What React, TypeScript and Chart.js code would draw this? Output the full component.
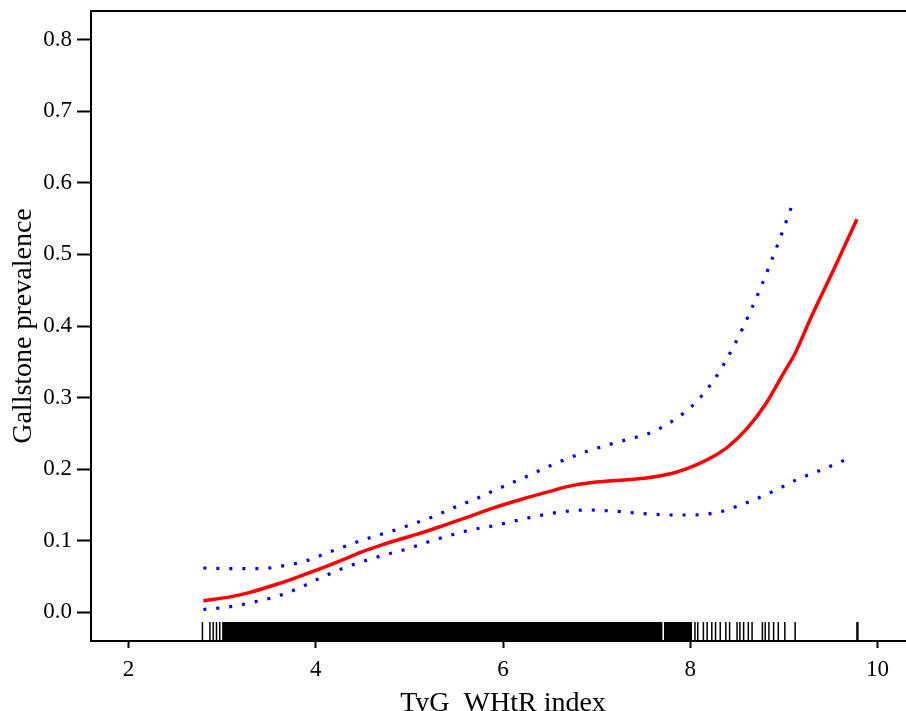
import React, { useEffect, useRef } from "react";
import { Chart, registerables } from "chart.js";

Chart.register(...registerables);

const FONT = '"Liberation Serif", "Times New Roman", Times, serif';

// Axis ticks
const xTickValues = [2, 4, 6, 8, 10];
const yTickValues = [0, 0.1, 0.2, 0.3, 0.4, 0.5, 0.6, 0.7, 0.8];

// Fitted curve (red)
const fitX = [2.8, 3.1, 3.3, 3.6, 3.8, 4.05, 4.3, 4.5, 4.7, 5.0, 5.2, 5.4, 5.6, 5.9, 6.2, 6.5, 6.7, 7.0, 7.3, 7.55, 7.8, 7.95, 8.1, 8.25, 8.4, 8.6, 8.8, 9.0, 9.12, 9.3, 9.5, 9.78];
const fitY = [0.016, 0.022, 0.028, 0.04, 0.049, 0.061, 0.074, 0.085, 0.094, 0.106, 0.114, 0.123, 0.132, 0.146, 0.158, 0.169, 0.176, 0.182, 0.185, 0.188, 0.194, 0.2, 0.208, 0.218, 0.231, 0.256, 0.29, 0.335, 0.362, 0.415, 0.47, 0.549];

// Upper confidence limit (blue dotted)
const upperX = [2.8, 3.1, 3.4, 3.65, 3.9, 4.1, 4.35, 4.57, 4.8, 5.03, 5.24, 5.47, 5.7, 5.9, 6.22, 6.56, 6.9, 7.15, 7.4, 7.54, 7.77, 8.01, 8.2, 8.36, 8.56, 8.74, 8.96, 9.11];
const upperY = [0.062, 0.061, 0.061, 0.065, 0.072, 0.082, 0.094, 0.104, 0.113, 0.123, 0.133, 0.146, 0.158, 0.17, 0.188, 0.208, 0.225, 0.235, 0.244, 0.249, 0.264, 0.287, 0.315, 0.347, 0.397, 0.45, 0.523, 0.577];

// Lower confidence limit (blue dotted)
const lowerX = [2.8, 3.09, 3.36, 3.6, 3.84, 4.05, 4.28, 4.5, 4.73, 4.96, 5.19, 5.42, 5.65, 5.9, 6.27, 6.66, 6.93, 7.22, 7.5, 7.8, 8.0, 8.3, 8.6, 8.9, 9.15, 9.42, 9.71];
const lowerY = [0.004, 0.008, 0.015, 0.023, 0.035, 0.048, 0.061, 0.071, 0.08, 0.088, 0.098, 0.107, 0.115, 0.121, 0.132, 0.141, 0.143, 0.141, 0.138, 0.136, 0.136, 0.14, 0.153, 0.17, 0.186, 0.2, 0.216];

// Rug: individual observations and densely packed ranges
const rugSingles = [2.79, 2.87, 2.905, 2.94, 2.975, 8.05, 8.08, 8.14, 8.18, 8.23, 8.27, 8.32, 8.38, 8.42, 8.5, 8.53, 8.57, 8.62, 8.66, 8.77, 8.8, 8.84, 8.89, 8.94, 9.01, 9.12, 9.78, 9.79];
const rugBandStarts = [3.0, 7.718];
const rugBandEnds = [7.705, 8.02];

// Axis range and rug placement (styling)
const X_MIN = 1.6;
const X_MAX = 10.4;
const Y_MIN = -0.04;
const Y_MAX = 0.84;
const RUG_TOP = -0.0135;
const RUG_MID = (RUG_TOP + Y_MIN) / 2;

const toPts = (xs: number[], ys: number[]) => xs.map((x, i) => ({ x, y: ys[i] }));

const boxPlugin = {
  id: "plotBox",
  afterDraw(chart: any) {
    const { ctx, chartArea } = chart;
    ctx.save();
    ctx.strokeStyle = "#000";
    ctx.lineWidth = 2;
    ctx.strokeRect(chartArea.left, chartArea.top, chartArea.right - chartArea.left, chartArea.bottom - chartArea.top);
    ctx.restore();
  },
};

export default function App() {
  const ref = useRef<HTMLCanvasElement | null>(null);

  useEffect(() => {
    if (!ref.current) return;
    const bandSets = rugBandStarts.map((s, i) => ({
      type: "line" as const,
      data: [
        { x: s, y: RUG_TOP },
        { x: rugBandEnds[i], y: RUG_TOP },
      ],
      borderWidth: 0,
      borderColor: "rgba(0,0,0,0)",
      backgroundColor: "#000",
      pointRadius: 0,
      fill: "start" as const,
    }));

    const dotted = {
      borderColor: "#0000ff",
      borderWidth: 3.2,
      borderDash: [3, 10],
      pointRadius: 0,
      cubicInterpolationMode: "monotone",
      fill: false,
    };

    const chart = new Chart(ref.current, {
      type: "line",
      data: {
        datasets: [
          {
            data: toPts(fitX, fitY),
            borderColor: "#ff0000",
            borderWidth: 3.5,
            pointRadius: 0,
            cubicInterpolationMode: "monotone",
            fill: false,
          },
          { data: toPts(upperX, upperY), ...dotted },
          { data: toPts(lowerX, lowerY), ...dotted },
          ...bandSets,
          {
            type: "scatter" as const,
            data: rugSingles.map((x) => ({ x, y: RUG_MID })),
            pointStyle: "line",
            rotation: 90,
            pointRadius: 9.5,
            pointBorderWidth: 1.5,
            borderColor: "#000",
            backgroundColor: "#000",
            showLine: false,
          },
        ] as any,
      },
      options: {
        animation: false,
        responsive: false,
        devicePixelRatio: 1,
        events: [],
        layout: { padding: { top: 11, right: 15, bottom: 0, left: 0 } },
        plugins: { legend: { display: false }, tooltip: { enabled: false } },
        scales: {
          x: {
            type: "linear",
            min: X_MIN,
            max: X_MAX,
            afterBuildTicks: (s: any) => {
              s.ticks = xTickValues.map((v) => ({ value: v }));
            },
            afterFit: (s: any) => {
              s.height = 70;
              s.paddingLeft = 0;
              s.paddingRight = 0;
            },
            border: { display: false },
            grid: { drawOnChartArea: false, drawTicks: true, tickLength: 7, tickWidth: 2, tickColor: "#000" },
            ticks: {
              autoSkip: false,
              maxRotation: 0,
              padding: 8,
              color: "#000",
              font: { family: FONT, size: 23 },
              callback: (v: any) => String(v),
            },
            title: {
              display: true,
              text: "TyG_WHtR index",
              color: "#000",
              font: { family: FONT, size: 28 },
              padding: { top: 0, bottom: -9 },
            },
          },
          y: {
            type: "linear",
            min: Y_MIN,
            max: Y_MAX,
            afterBuildTicks: (s: any) => {
              s.ticks = yTickValues.map((v) => ({ value: v }));
            },
            afterFit: (s: any) => {
              s.width = 91;
              s.paddingTop = 0;
              s.paddingBottom = 0;
            },
            border: { display: false },
            grid: { drawOnChartArea: false, drawTicks: true, tickLength: 14, tickWidth: 2, tickColor: "#000" },
            ticks: {
              autoSkip: false,
              padding: 5,
              color: "#000",
              font: { family: FONT, size: 23 },
              callback: (v: any) => Number(v).toFixed(1),
            },
            title: {
              display: true,
              text: "Gallstone prevalence",
              color: "#000",
              font: { family: FONT, size: 28 },
              padding: { top: 7, bottom: 0 },
            },
          },
        },
      },
      plugins: [boxPlugin],
    });
    return () => chart.destroy();
  }, []);

  return (
    <div style={{ position: "fixed", left: 0, top: 0, width: 930, height: 711, background: "#fff" }}>
      <canvas ref={ref} width={930} height={711} style={{ display: "block", width: 930, height: 711 }} />
    </div>
  );
}
